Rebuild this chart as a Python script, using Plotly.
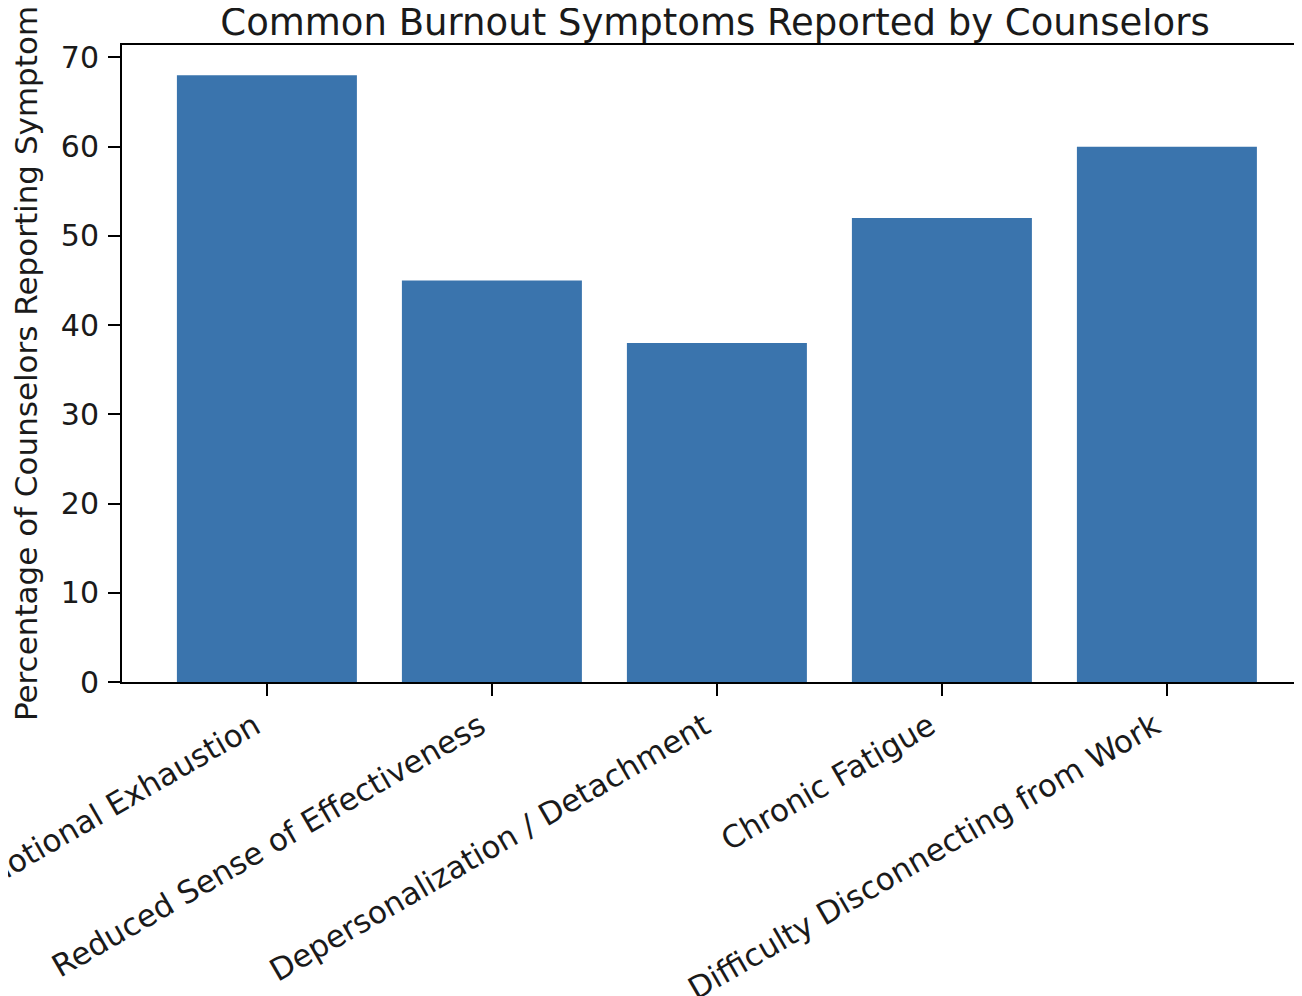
import plotly.graph_objects as go

categories = [
    "Emotional Exhaustion",
    "Reduced Sense of Effectiveness",
    "Depersonalization / Detachment",
    "Chronic Fatigue",
    "Difficulty Disconnecting from Work",
]
percentages = [68, 45, 38, 52, 60]
y_ticks = [0, 10, 20, 30, 40, 50, 60, 70]

FONT = "DejaVu Sans"
TXT = "#1a1a1a"

fig = go.Figure(
    go.Bar(
        x=list(range(len(categories))),
        y=percentages,
        width=0.8,
        marker=dict(color="#3a74ad", line=dict(width=0)),
    )
)

fig.update_layout(
    width=1302,
    height=996,
    margin=dict(l=114, r=0, t=37, b=322, autoexpand=False),
    plot_bgcolor="white",
    paper_bgcolor="white",
    showlegend=False,
    font=dict(family=FONT, color=TXT, size=31),
    title=dict(
        text="Common Burnout Symptoms Reported by Counselors",
        font=dict(family=FONT, size=37, color=TXT),
        xref="container",
        x=707 / 1302,
        xanchor="center",
        yref="container",
        y=1 - 14 / 996,
        yanchor="middle",
        automargin=False,
    ),
)

fig.update_xaxes(
    range=[-0.644, 4.636],
    tickmode="array",
    tickvals=list(range(len(categories))),
    ticktext=categories,
    tickangle=-30,
    ticks="outside",
    ticklen=12,
    tickwidth=2,
    tickcolor="black",
    ticklabelshift=-12,
    ticklabeloverflow="allow",
    automargin=False,
    showline=True,
    linecolor="black",
    linewidth=2,
    mirror=True,
    showgrid=False,
    zeroline=False,
    tickfont=dict(family=FONT, size=31, color=TXT),
)

fig.update_yaxes(
    range=[0, 71.4],
    tickmode="array",
    tickvals=y_ticks,
    ticks="outside",
    ticklen=12,
    tickwidth=2,
    tickcolor="black",
    ticklabelstandoff=3,
    showline=True,
    linecolor="black",
    linewidth=2,
    showgrid=False,
    zeroline=False,
    tickfont=dict(family=FONT, size=30, color=TXT),
    title=dict(
        text="Percentage of Counselors Reporting Symptom",
        font=dict(family=FONT, size=31, color=TXT),
        standoff=14,
    ),
    automargin=False,
)

fig.write_html("out.html")
